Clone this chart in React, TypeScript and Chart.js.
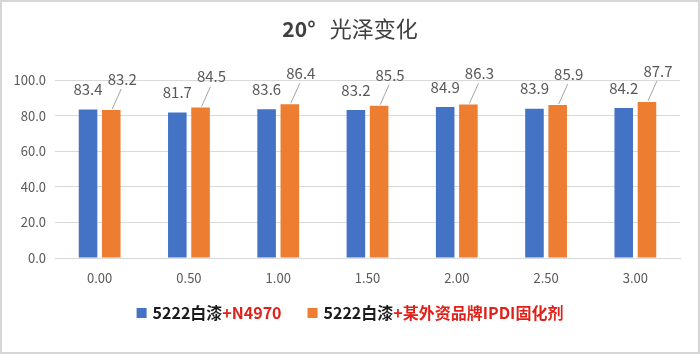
import React, { useEffect, useRef } from "react";
import { Chart, registerables } from "chart.js";

Chart.register(...registerables);

const categories = ["0.00", "0.50", "1.00", "1.50", "2.00", "2.50", "3.00"];
const seriesA = [83.4, 81.7, 83.6, 83.2, 84.9, 83.9, 84.2];
const seriesB = [83.2, 84.5, 86.4, 85.5, 86.3, 85.9, 87.7];
const legendBlack = "5222白漆";
const legendRedA = "+N4970";
const legendRedB = "+某外资品牌IPDI固化剂";
const titleNum = "20°";
const titleText = "光泽变化";

const BLUE = "#4472C4";
const ORANGE = "#ED7D31";
const FONT = "'Noto Sans CJK SC', 'Noto Sans', sans-serif";

const decorPlugin = {
  id: "decor",
  beforeDraw(chart: any) {
    const ctx = chart.ctx;
    ctx.save();
    ctx.fillStyle = "#ffffff";
    ctx.fillRect(0, 0, chart.width, chart.height);
    ctx.restore();
  },
  afterDraw(chart: any) {
    const ctx = chart.ctx;
    ctx.save();
    // border
    ctx.strokeStyle = "#d6d6d6";
    ctx.lineWidth = 2;
    ctx.strokeRect(1, 1, chart.width - 2, chart.height - 2);

    // title
    ctx.textBaseline = "middle";
    ctx.fillStyle = "#404040";
    ctx.font = `bold 21px ${FONT}`;
    const wNum = ctx.measureText(titleNum).width;
    ctx.font = `22px ${FONT}`;
    const gap = 14;
    const wText = ctx.measureText(titleText).width;
    const total = wNum + gap + wText;
    let x = chart.width / 2 - total / 2;
    ctx.textAlign = "left";
    ctx.font = `bold 21px ${FONT}`;
    ctx.fillText(titleNum, x, 29);
    x += wNum + gap;
    ctx.font = `22px ${FONT}`;
    ctx.fillText(titleText, x, 29);

    // data labels
    const metaA = chart.getDatasetMeta(0);
    const metaB = chart.getDatasetMeta(1);
    ctx.font = `15px ${FONT}`;
    ctx.fillStyle = "#595959";
    ctx.textAlign = "center";
    metaA.data.forEach((bar: any, i: number) => {
      ctx.fillText(seriesA[i].toFixed(1), bar.x, bar.y - 20);
    });
    metaB.data.forEach((bar: any, i: number) => {
      ctx.strokeStyle = "#a6a6a6";
      ctx.lineWidth = 1;
      ctx.beginPath();
      ctx.moveTo(bar.x + 1, bar.y - 1);
      ctx.lineTo(bar.x + 10, bar.y - 21);
      ctx.stroke();
      ctx.fillText(seriesB[i].toFixed(1), bar.x + 11, bar.y - 31);
    });

    // legend
    const ly = 313;
    ctx.textAlign = "left";
    ctx.font = `bold 16px ${FONT}`;
    const items = [
      { color: BLUE, red: legendRedA },
      { color: ORANGE, red: legendRedB },
    ];
    const boxGap = 6;
    const itemGap = 26;
    const widths = items.map(
      (it) => 10 + boxGap + ctx.measureText(legendBlack).width + ctx.measureText(it.red).width
    );
    const totalW = widths.reduce((a, b) => a + b, 0) + itemGap;
    let lx = chart.width / 2 - totalW / 2;
    items.forEach((it, k) => {
      ctx.fillStyle = it.color;
      ctx.fillRect(lx, ly - 5, 10, 10);
      let tx = lx + 10 + boxGap;
      ctx.fillStyle = "#1a1a1a";
      ctx.fillText(legendBlack, tx, ly);
      tx += ctx.measureText(legendBlack).width;
      ctx.fillStyle = "#e0211b";
      ctx.fillText(it.red, tx, ly);
      lx += widths[k] + itemGap;
    });
    ctx.restore();
  },
};

export default function App() {
  const ref = useRef<HTMLCanvasElement | null>(null);
  useEffect(() => {
    if (!ref.current) return;
    const chart = new Chart(ref.current, {
      type: "bar",
      data: {
        labels: categories,
        datasets: [
          {
            label: legendBlack + legendRedA,
            data: seriesA,
            backgroundColor: BLUE,
            categoryPercentage: 0.52,
            barPercentage: 0.8,
          },
          {
            label: legendBlack + legendRedB,
            data: seriesB,
            backgroundColor: ORANGE,
            categoryPercentage: 0.52,
            barPercentage: 0.8,
          },
        ],
      },
      options: {
        animation: false,
        responsive: false,
        maintainAspectRatio: false,
        layout: { padding: { left: 0, right: 20, top: 80, bottom: 56 } },
        plugins: {
          legend: { display: false },
          title: { display: false },
          tooltip: { enabled: false },
        },
        scales: {
          x: {
            grid: { display: false, drawTicks: false },
            border: { color: "#d9d9d9", width: 1 },
            ticks: {
              color: "#595959",
              font: { size: 13, family: FONT },
              padding: 12,
            },
            afterFit(scale: any) {
              scale.height = 40;
            },
          },
          y: {
            min: 0,
            max: 100,
            ticks: {
              stepSize: 20,
              color: "#595959",
              font: { size: 13, family: FONT },
              padding: 9,
              callback: (v: any) => Number(v).toFixed(1),
            },
            grid: { color: "#d9d9d9", drawTicks: false },
            border: { display: false },
            afterFit(scale: any) {
              scale.width = 55;
            },
          },
        },
      },
      plugins: [decorPlugin],
    });
    return () => chart.destroy();
  }, []);
  return (
    <div style={{ position: "fixed", left: 0, top: 0, width: 700, height: 354 }}>
      <canvas ref={ref} width={700} height={354} style={{ width: 700, height: 354, display: "block" }} />
    </div>
  );
}
